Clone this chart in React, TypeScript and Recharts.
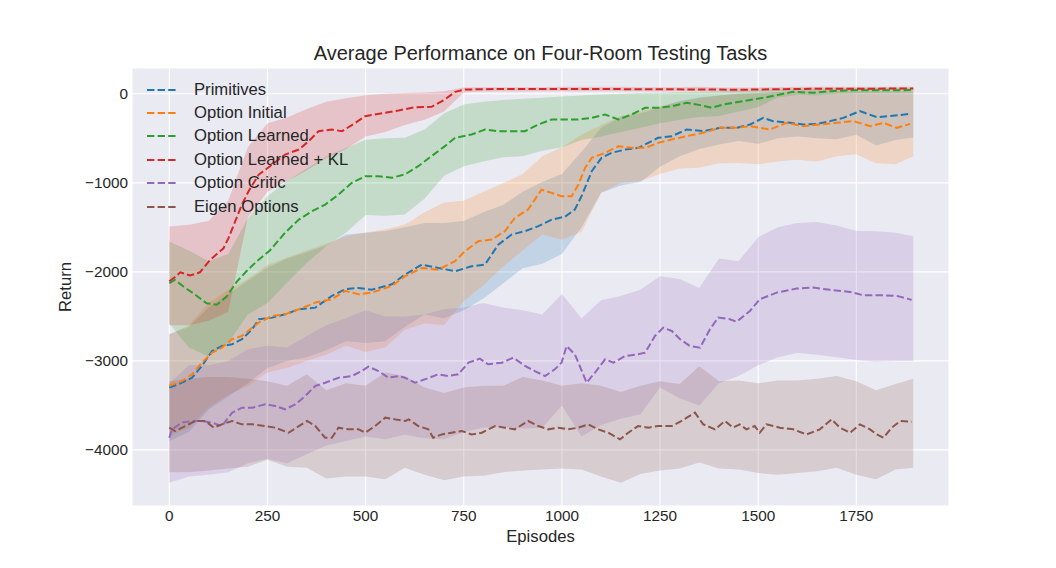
import React from 'react';
import { ComposedChart, Area, Line, XAxis, YAxis, CartesianGrid } from 'recharts';

const FONT = '"Liberation Sans", Arial, sans-serif';
const TEXT = '#262626';

const seriesNames = ['Primitives', 'Option Initial', 'Option Learned', 'Option Learned + KL', 'Option Critic', 'Eigen Options'];
const seriesKeys = ['primitives', 'optionInitial', 'optionLearned', 'optionLearnedKl', 'optionCritic', 'eigenOptions'];
const seriesColors = ['#1f77b4', '#ff7f0e', '#2ca02c', '#d62728', '#9467bd', '#8c564b'];

const xTicks = [0, 250, 500, 750, 1000, 1250, 1500, 1750];
const yTicks = [-4000, -3000, -2000, -1000, 0];

// mean curves (episode, return)
const primitivesEp = [0, 32, 58, 83, 109, 134, 160, 185, 211, 228, 262, 295, 330, 372, 414, 448, 482, 516, 567, 600, 643, 685, 728, 770, 804, 838, 872, 906, 940, 974, 1008, 1033, 1050, 1076, 1101, 1127, 1161, 1195, 1245, 1280, 1318, 1360, 1403, 1445, 1479, 1513, 1538, 1581, 1615, 1649, 1683, 1717, 1759, 1802, 1836, 1887];
const primitivesMean = [-3301, -3245, -3189, -3057, -2889, -2833, -2813, -2757, -2645, -2532, -2514, -2477, -2420, -2402, -2270, -2195, -2180, -2200, -2140, -2031, -1918, -1956, -1993, -1937, -1918, -1694, -1581, -1543, -1487, -1413, -1380, -1300, -1150, -869, -719, -663, -626, -607, -494, -476, -401, -420, -382, -382, -345, -270, -307, -326, -345, -338, -307, -270, -195, -262, -250, -225];

const optionInitialEp = [0, 32, 58, 83, 109, 134, 160, 185, 211, 228, 262, 295, 330, 372, 414, 448, 482, 516, 567, 600, 643, 685, 728, 753, 787, 821, 855, 880, 914, 948, 974, 999, 1025, 1042, 1059, 1076, 1110, 1144, 1178, 1212, 1245, 1280, 1318, 1360, 1403, 1445, 1479, 1530, 1572, 1615, 1657, 1700, 1742, 1785, 1819, 1853, 1887];
const optionInitialMean = [-3280, -3226, -3151, -3020, -2908, -2851, -2757, -2720, -2627, -2570, -2495, -2477, -2420, -2345, -2308, -2213, -2252, -2233, -2158, -2050, -1956, -1975, -1880, -1768, -1656, -1637, -1543, -1394, -1300, -1076, -1113, -1150, -1150, -1019, -832, -719, -663, -588, -607, -607, -551, -513, -476, -438, -382, -382, -363, -401, -326, -363, -345, -326, -307, -363, -326, -382, -338];

const optionLearnedEp = [0, 14, 36, 61, 95, 121, 146, 172, 197, 223, 256, 295, 330, 363, 397, 431, 465, 499, 533, 567, 601, 634, 668, 702, 728, 770, 804, 838, 872, 906, 940, 974, 1008, 1042, 1076, 1110, 1144, 1178, 1212, 1245, 1280, 1318, 1352, 1381, 1411, 1462, 1513, 1555, 1589, 1640, 1683, 1740, 1800, 1850, 1895];
const optionLearnedMean = [-2128, -2090, -2165, -2240, -2353, -2370, -2278, -2110, -1990, -1880, -1760, -1560, -1413, -1319, -1244, -1132, -1000, -925, -925, -944, -903, -813, -700, -588, -494, -457, -401, -420, -420, -420, -345, -288, -288, -288, -270, -232, -288, -232, -157, -157, -140, -101, -127, -157, -120, -82, -45, -7, 22, 11, 30, 41, 41, 40, 42];

const optionLearnedKlEp = [0, 14, 28, 53, 78, 104, 138, 151, 168, 185, 202, 228, 262, 295, 330, 355, 380, 414, 440, 474, 499, 550, 584, 626, 668, 702, 728, 753, 850, 1000, 1200, 1400, 1450, 1600, 1800, 1895];
const optionLearnedKlMean = [-2105, -2060, -2005, -2040, -2005, -1866, -1735, -1618, -1431, -1244, -1094, -907, -795, -682, -626, -532, -420, -401, -420, -326, -251, -213, -187, -150, -146, -64, 22, 48, 55, 55, 52, 48, 45, 55, 58, 60];

const optionCriticEp = [0, 7, 32, 58, 83, 109, 134, 147, 160, 185, 211, 245, 270, 295, 321, 346, 372, 397, 431, 465, 490, 507, 533, 558, 584, 600, 626, 651, 685, 711, 736, 762, 791, 812, 847, 876, 906, 931, 957, 982, 999, 1012, 1033, 1063, 1084, 1110, 1131, 1161, 1194, 1212, 1237, 1258, 1280, 1301, 1326, 1352, 1377, 1398, 1428, 1445, 1479, 1504, 1547, 1598, 1640, 1683, 1734, 1768, 1819, 1853, 1891];
const optionCriticMean = [-3863, -3769, -3694, -3675, -3675, -3694, -3732, -3657, -3582, -3526, -3526, -3488, -3507, -3544, -3488, -3395, -3282, -3245, -3189, -3170, -3114, -3065, -3114, -3189, -3170, -3189, -3245, -3207, -3151, -3170, -3151, -3020, -2975, -3038, -3020, -2964, -3057, -3114, -3170, -3095, -3020, -2833, -2926, -3245, -3133, -2982, -3020, -2945, -2926, -2908, -2720, -2627, -2664, -2757, -2833, -2851, -2645, -2514, -2532, -2560, -2439, -2308, -2233, -2188, -2177, -2202, -2225, -2263, -2263, -2270, -2315];

const eigenOptionsEp = [0, 15, 41, 66, 92, 113, 134, 160, 185, 211, 245, 270, 304, 330, 351, 372, 397, 414, 431, 456, 482, 499, 524, 550, 575, 601, 610, 634, 660, 672, 694, 719, 745, 770, 796, 830, 855, 880, 914, 940, 965, 991, 1016, 1042, 1067, 1093, 1118, 1148, 1169, 1194, 1220, 1245, 1280, 1305, 1318, 1339, 1360, 1390, 1415, 1436, 1453, 1470, 1491, 1504, 1521, 1555, 1589, 1623, 1657, 1687, 1708, 1734, 1759, 1785, 1802, 1819, 1840, 1862, 1891];
const eigenOptionsMean = [-3750, -3788, -3732, -3675, -3675, -3750, -3713, -3675, -3713, -3713, -3732, -3750, -3807, -3732, -3675, -3732, -3863, -3863, -3750, -3769, -3769, -3807, -3732, -3638, -3657, -3675, -3657, -3732, -3769, -3863, -3826, -3807, -3788, -3826, -3807, -3732, -3750, -3769, -3675, -3732, -3769, -3750, -3769, -3750, -3713, -3769, -3807, -3882, -3807, -3732, -3750, -3732, -3732, -3675, -3638, -3582, -3713, -3769, -3675, -3750, -3713, -3769, -3732, -3807, -3713, -3750, -3769, -3826, -3769, -3657, -3750, -3807, -3713, -3769, -3826, -3863, -3750, -3675, -3685];

// shaded bands (shared episode grid)
const bandEpisodes = [0, 50, 100, 150, 200, 250, 300, 350, 400, 450, 500, 550, 600, 650, 700, 750, 800, 850, 900, 950, 1000, 1050, 1100, 1150, 1200, 1250, 1300, 1350, 1400, 1450, 1500, 1550, 1600, 1650, 1700, 1750, 1800, 1850, 1895];

const primitivesLow = [-3900, -3800, -3550, -3400, -3250, -3080, -3000, -2960, -2880, -2780, -2800, -2780, -2620, -2480, -2520, -2430, -2300, -2130, -1960, -1910, -1800, -1500, -1110, -1030, -990, -820, -700, -620, -570, -530, -560, -500, -480, -500, -510, -460, -580, -520, -490];
const primitivesHigh = [-2700, -2620, -2400, -2250, -2100, -1950, -1850, -1780, -1700, -1580, -1560, -1540, -1500, -1450, -1450, -1430, -1330, -1250, -1100, -990, -900, -650, -380, -260, -220, -150, -80, -40, -20, 0, 10, 20, 25, 25, 28, 28, 28, 28, 28];

const optionInitialLow = [-3850, -3750, -3520, -3380, -3280, -3130, -3080, -3000, -2930, -2830, -2900, -2850, -2650, -2580, -2600, -2330, -2150, -1940, -1760, -1580, -1640, -1550, -1110, -1000, -980, -900, -840, -830, -780, -776, -790, -760, -740, -760, -700, -680, -780, -790, -700];
const optionInitialHigh = [-2700, -2600, -2350, -2200, -2080, -1920, -1840, -1760, -1680, -1600, -1560, -1520, -1470, -1330, -1220, -1200, -1100, -1005, -900, -700, -600, -460, -350, -250, -200, -140, -90, -50, -20, 0, 10, 20, 25, 25, 30, 30, 30, 30, 30];

const optionLearnedLow = [-2580, -2850, -2950, -2800, -2480, -2350, -2120, -1900, -1710, -1560, -1360, -1370, -1356, -1180, -920, -815, -760, -712, -700, -640, -600, -520, -480, -430, -380, -330, -290, -260, -250, -200, -150, -40, -10, -15, 0, 10, 12, 12, 15];
const optionLearnedHigh = [-1660, -1760, -1880, -1800, -1400, -1150, -980, -840, -700, -610, -515, -500, -494, -400, -220, -120, -90, -70, -55, -45, -30, -20, -8, 0, 8, 12, 20, 25, 30, 35, 40, 50, 55, 58, 60, 65, 65, 65, 65];

const optionLearnedKlLow = [-2600, -2600, -2550, -2450, -1390, -1100, -980, -860, -720, -620, -480, -430, -350, -290, -200, 15, 25, 25, 25, 28, 30, 30, 30, 30, 28, 25, 28, 30, 25, 20, 25, 28, 30, 30, 30, 35, 35, 38, 38];
const optionLearnedKlHigh = [-1490, -1470, -1430, -1200, -600, -330, -265, -170, -90, -50, -15, 0, 10, 15, 30, 70, 75, 75, 75, 75, 78, 78, 78, 78, 75, 75, 75, 78, 72, 70, 72, 75, 78, 78, 78, 80, 80, 80, 80];

const optionCriticLow = [-4370, -4300, -4280, -4250, -4150, -4100, -4150, -4050, -3950, -3900, -3850, -3880, -3830, -3870, -3880, -3800, -3750, -3740, -3760, -3750, -3500, -3850, -3720, -3650, -3600, -3300, -3420, -3500, -3250, -3170, -3050, -2960, -2910, -2930, -2960, -2990, -3010, -3000, -3000];
const optionCriticHigh = [-3250, -3050, -3050, -3000, -2870, -2830, -2850, -2720, -2600, -2520, -2430, -2500, -2500, -2480, -2420, -2400, -2350, -2400, -2430, -2480, -2250, -2520, -2320, -2270, -2200, -2050, -2080, -2180, -1850, -1880, -1610, -1500, -1450, -1440, -1480, -1540, -1545, -1560, -1600];

const eigenOptionsLow = [-4250, -4250, -4230, -4210, -4190, -4110, -4190, -4200, -4320, -4300, -4300, -4330, -4200, -4280, -4340, -4300, -4290, -4250, -4230, -4220, -4210, -4220, -4300, -4370, -4270, -4230, -4210, -4140, -4210, -4220, -4260, -4280, -4260, -4240, -4200, -4280, -4330, -4220, -4200];
const eigenOptionsHigh = [-3230, -3200, -3180, -3180, -3200, -3230, -3280, -3150, -3330, -3250, -3280, -3130, -3170, -3300, -3360, -3300, -3280, -3280, -3180, -3220, -3280, -3250, -3280, -3350, -3280, -3230, -3260, -3060, -3230, -3220, -3250, -3220, -3220, -3200, -3170, -3230, -3330, -3260, -3200];

const meanEps = [primitivesEp, optionInitialEp, optionLearnedEp, optionLearnedKlEp, optionCriticEp, eigenOptionsEp];
const meanVals = [primitivesMean, optionInitialMean, optionLearnedMean, optionLearnedKlMean, optionCriticMean, eigenOptionsMean];
const bandLows = [primitivesLow, optionInitialLow, optionLearnedLow, optionLearnedKlLow, optionCriticLow, eigenOptionsLow];
const bandHighs = [primitivesHigh, optionInitialHigh, optionLearnedHigh, optionLearnedKlHigh, optionCriticHigh, eigenOptionsHigh];

const bandRows = bandEpisodes.map((episode, i) => {
    const row: any = { episode };
    seriesKeys.forEach((key, s) => {
        row[key] = [bandLows[s][i], bandHighs[s][i]];
    });
    return row;
});

const meanRows = meanEps.map((eps, s) => {
    const n = Math.min(eps.length, meanVals[s].length);
    return eps.slice(0, n).map((episode, i) => ({ episode, value: meanVals[s][i] }));
});

const fmt = (v: number) => (v < 0 ? '\u2212' + Math.abs(v) : String(v));

export default function App() {
    return (
        <div style={{ position: 'absolute', left: 0, top: 0, width: 1056, height: 568, background: '#fff', fontFamily: FONT }}>
            <ComposedChart width={1056} height={568} data={bandRows} margin={{ top: 68, right: 107, bottom: 32, left: 72 }}>
                <CartesianGrid fill="#EAEAF2" fillOpacity={1} stroke="#FFFFFF" strokeWidth={1.1} />
                <XAxis
                    type="number"
                    dataKey="episode"
                    domain={[-95, 1986]}
                    ticks={xTicks}
                    allowDataOverflow
                    axisLine={false}
                    tickLine={false}
                    tickSize={4}
                    tickMargin={0}
                    height={30}
                    tick={{ fill: TEXT, fontSize: 15.3, fontFamily: FONT }}
                />
                <YAxis
                    type="number"
                    domain={[-4630, 290]}
                    ticks={yTicks}
                    allowDataOverflow
                    axisLine={false}
                    tickLine={false}
                    tickSize={4}
                    tickMargin={0}
                    width={60}
                    tickFormatter={fmt}
                    tick={{ fill: TEXT, fontSize: 15.3, fontFamily: FONT }}
                />
                {seriesKeys.map((key, s) => (
                    <Area
                        key={'band-' + key}
                        type="linear"
                        dataKey={key}
                        stroke="none"
                        fill={seriesColors[s]}
                        fillOpacity={0.2}
                        isAnimationActive={false}
                        dot={false}
                        activeDot={false}
                        legendType="none"
                    />
                ))}
                {seriesKeys.map((key, s) => (
                    <Line
                        key={'mean-' + key}
                        data={meanRows[s]}
                        type="linear"
                        dataKey="value"
                        name={seriesNames[s]}
                        stroke={seriesColors[s]}
                        strokeWidth={2}
                        strokeDasharray="7.4 3.2"
                        dot={false}
                        activeDot={false}
                        isAnimationActive={false}
                    />
                ))}
            </ComposedChart>

            <div style={{ position: 'absolute', left: 0, width: 1081, top: 40, textAlign: 'center', fontSize: 20, color: TEXT, lineHeight: '26px' }}>
                Average Performance on Four-Room Testing Tasks
            </div>
            <div style={{ position: 'absolute', left: 0, width: 1081, top: 526, textAlign: 'center', fontSize: 16.67, color: TEXT, lineHeight: '22px' }}>
                Episodes
            </div>
            <div style={{ position: 'absolute', left: 66, top: 287, transform: 'translate(-50%, -50%) rotate(-90deg)', fontSize: 16.67, color: TEXT, lineHeight: '22px', whiteSpace: 'nowrap' }}>
                Return
            </div>

            <div style={{ position: 'absolute', left: 147, top: 78 }}>
                {seriesNames.map((name, s) => (
                    <div key={name} style={{ display: 'flex', alignItems: 'center', height: 23.4 }}>
                        <svg width={30} height={4} style={{ display: 'block' }}>
                            <line x1={0} y1={2} x2={30} y2={2} stroke={seriesColors[s]} strokeWidth={2} strokeDasharray="7.4 3.2" />
                        </svg>
                        <span style={{ marginLeft: 17, fontSize: 16.67, color: TEXT, whiteSpace: 'nowrap' }}>{name}</span>
                    </div>
                ))}
            </div>
        </div>
    );
}
